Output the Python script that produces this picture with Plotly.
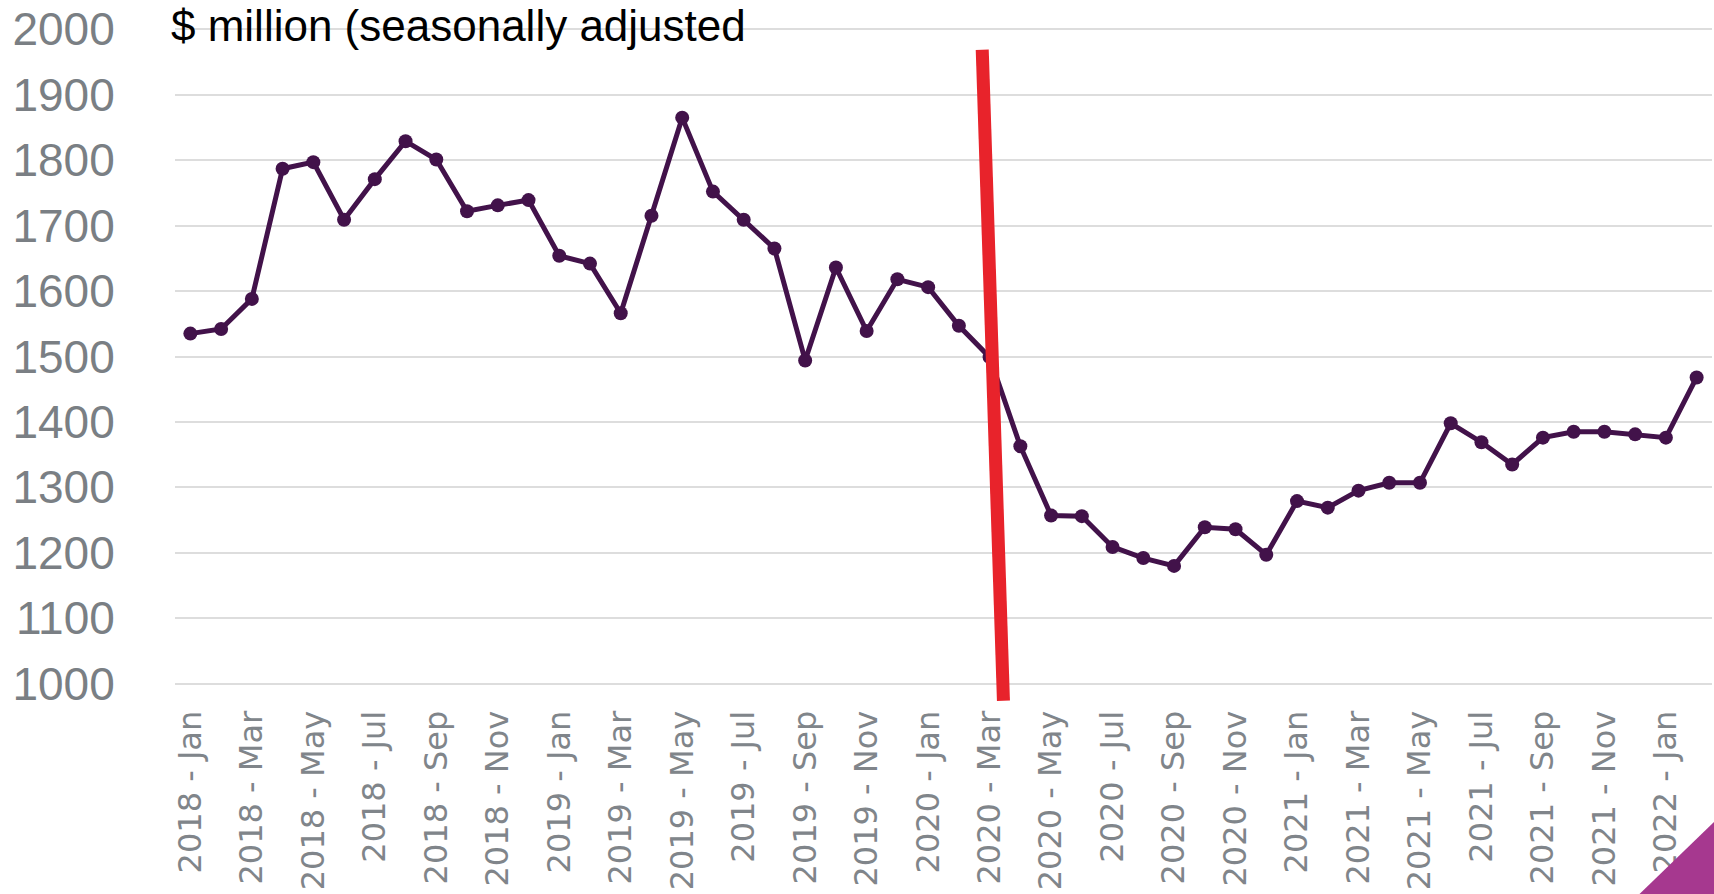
import plotly.graph_objects as go

# monthly values, $ million (seasonally adjusted)
years = [2018] * 12 + [2019] * 12 + [2020] * 12 + [2021] * 12 + [2022] * 2
months = ['Jan', 'Feb', 'Mar', 'Apr', 'May', 'Jun',
          'Jul', 'Aug', 'Sep', 'Oct', 'Nov', 'Dec'] * 4 + ['Jan', 'Feb']
periods = [f'{y} - {m}' for y, m in zip(years, months)]

values = [1535, 1542, 1588, 1787, 1797, 1709, 1771, 1829, 1801, 1722, 1731, 1739,
          1654, 1642, 1566, 1715, 1865, 1752, 1709, 1665, 1494, 1636, 1539, 1618,
          1606, 1547, 1499, 1363, 1257, 1256, 1209, 1192, 1180, 1239, 1236, 1197,
          1279, 1269, 1295, 1307, 1307, 1398, 1369, 1335, 1376, 1385, 1385, 1381,
          1376, 1468]

y_ticks = list(range(1000, 2001, 100))
title_text = '$ million (seasonally adjusted'

# the red "covid" marker sits between 2020 - Feb and 2020 - Mar
covid_top = 25.76
covid_bottom = 26.45

fig = go.Figure()

fig.add_trace(go.Scatter(
    x=list(range(len(periods))), y=values,
    mode='lines+markers',
    line=dict(color='#42124A', width=5),
    marker=dict(color='#42124A', size=14),
    cliponaxis=False,
    showlegend=False,
))

# red vertical marker line (slightly tilted, as drawn in the original)
fig.add_shape(type='line', xref='x', yref='paper',
              x0=covid_top, x1=covid_bottom, y0=0.967, y1=-0.024,
              line=dict(color='#E8232B', width=13), layer='above')

# purple corner decoration
fig.add_shape(type='path', xref='paper', yref='paper',
              path='M 0.952 -0.32 L 1.002 -0.32 L 1.002 -0.207 Z',
              fillcolor='#A6388F', line=dict(width=0), layer='above')

fig.add_annotation(text=title_text, xref='paper', yref='paper',
                   x=-0.004, y=1.0, xanchor='left', yanchor='middle',
                   yshift=3, showarrow=False,
                   font=dict(family='Liberation Sans, Arial', size=44, color='#000000'))

fig.update_xaxes(
    range=[-0.5, len(periods) - 0.5],
    tickmode='array',
    tickvals=list(range(0, len(periods), 2)),
    ticktext=periods[::2],
    tickangle=-90,
    ticks='outside', ticklen=12, tickcolor='rgba(0,0,0,0)',
    tickfont=dict(family='DejaVu Sans', size=32, color='#80858A'),
    showgrid=False, zeroline=False, showline=False,
    automargin=False, ticklabeloverflow='allow',
)
fig.update_yaxes(
    range=[998, 2002],
    tickvals=y_ticks,
    ticks='outside', ticklen=50, tickcolor='rgba(0,0,0,0)',
    tickfont=dict(family='Liberation Sans, Arial', size=46, color='#7A7F84'),
    showgrid=True, gridcolor='#DDDDDD', gridwidth=2,
    zeroline=False, showline=False,
    automargin=False, ticklabeloverflow='allow',
)

fig.update_layout(
    width=1714, height=894,
    margin=dict(l=175, r=2, t=28, b=209),
    plot_bgcolor='white', paper_bgcolor='white',
)

fig.write_html('out.html', config={'displayModeBar': False},
               post_script="document.body.style.margin='0';")
